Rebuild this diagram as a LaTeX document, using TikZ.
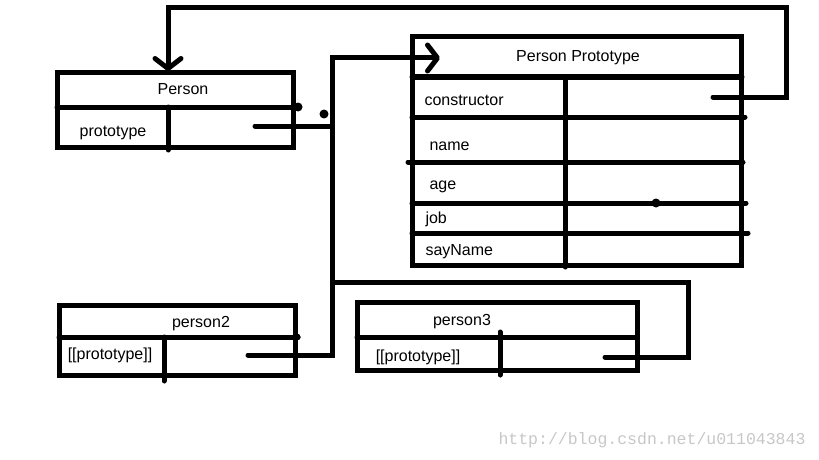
\documentclass[tikz,border=0pt]{standalone}
\usepackage{fontspec}
\setmainfont{Liberation Sans}
\setmonofont{Liberation Mono}
\usetikzlibrary{arrows.meta}
\begin{document}
\begin{tikzpicture}[x=1pt,y=-1pt,line width=5pt,
    box/.style={draw,inner sep=0pt,outer sep=0pt,anchor=north west},
    txt/.style={inner sep=0pt,font=\fontsize{16}{18}\selectfont},
    dot/.style={circle,fill,inner sep=0pt,minimum size=9pt},
    conn/.style={line cap=round,line join=miter},
    barb/.style={-{Straight Barb[round,length=10pt,width=26pt]}}]
  \useasboundingbox (0,0) rectangle (819,460);
  \node[box,minimum width=236pt,minimum height=74pt] (person) at (57,73) {};
  \node[box,minimum width=329pt,minimum height=228pt] (proto) at (412,37) {};
  \node[box,minimum width=236pt,minimum height=70pt] (person2) at (59,305) {};
  \node[box,minimum width=280pt,minimum height=68pt] (person3) at (357,302) {};
  \path
    (183,89) node[txt] (pname){Person}
    (113,133) node[txt] (pproto){prototype}
    (578,58) node[txt] (ppname){Person Prototype}
    (422,100) node[txt,anchor=west] (ppctor){constructor}
    (427,146) node[txt,anchor=west] (ppname2){name}
    (427,187) node[txt,anchor=west] (ppage){age}
    (423,219) node[txt,anchor=west] (ppjob){job}
    (423,252) node[txt,anchor=west] (ppsay){sayName}
    (201,324) node[txt] (p2name){person2}
    (110,355) node[txt] (p2proto){[[prototype]]}
    (462,322) node[txt] (p3name){person3}
    (418,357) node[txt] (p3proto){[[prototype]]}
    (652,440) node[inner sep=0pt,text=black!22,font=\ttfamily\fontsize{16.5}{18}\selectfont] (mark){http://blog.csdn.net/u011043843};
  \begin{scope}[conn]
    \draw (57,107) -- (298,107);
    \draw (168,107) -- (168,150);
    \draw (412,77) -- (742,77);
    \draw (565,77) -- (565,267);
    \draw (412,117) -- (745,117);
    \draw (408,162) -- (743,162);
    \draw (412,203) -- (746,203);
    \draw (412,233) -- (748,233);
    \draw (59,337) -- (298,337);
    \draw (164,337) -- (164,381);
    \draw (357,337) -- (637,337);
    \draw (500,332) -- (500,375);
  \end{scope}
  \node[dot] (d0) at (298,107) {};
  \node[dot] (d1) at (324,114) {};
  \node[dot] (d2) at (656,203) {};
  \node[dot,minimum size=7pt] (d3) at (297,337) {};
  \coordinate (ctor) at (713,97);
  \coordinate (ptop) at (168,71);
  \coordinate (pslot) at (255,126);
  \coordinate (pptop) at (440,58);
  \coordinate (p2slot) at (248,355);
  \coordinate (p3slot) at (605,357);
  \coordinate (trunk) at (332,282);
  \begin{scope}[conn]
    \draw[barb] (ctor) -- (786,97) -- (786,8) -- (168,8) -- (ptop);
    \draw[barb] (pslot) -- (332,126) -- (332,58) -- (pptop);
    \draw (p2slot) -| (trunk);
    \draw (p3slot) -| (688,282) -- (trunk) -- (332,126);
  \end{scope}
\end{tikzpicture}
\end{document}
